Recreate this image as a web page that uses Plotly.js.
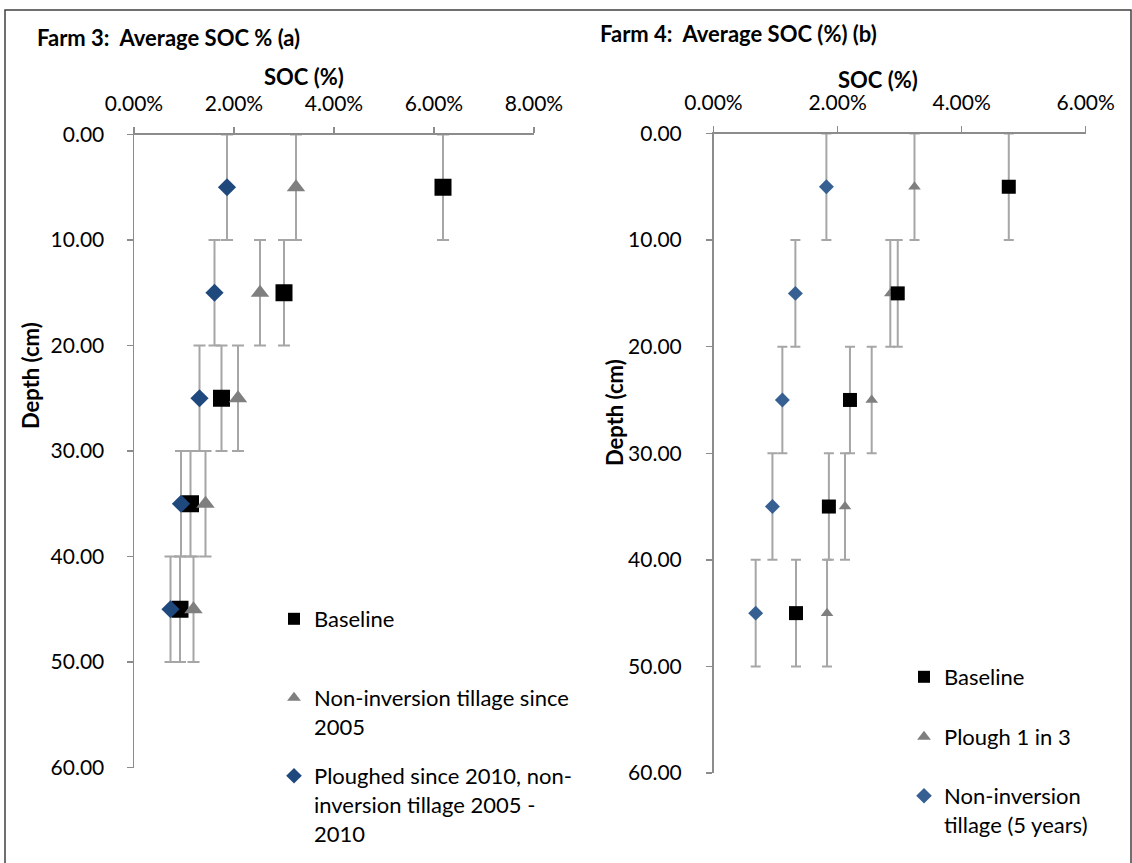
<!DOCTYPE html>
<html>
<head>
<meta charset="utf-8">
<script src="https://cdn.plot.ly/plotly-3.0.1.min.js"></script>
<style>
  html, body { margin: 0; padding: 0; background: #ffffff; }
  #chart { width: 1132px; height: 863px; }
</style>
</head>
<body>
<div id="chart"></div>
<script>
// Sampling depths (cm, centre of each 10 cm layer) and the layer half-thickness
const depthCm = [5, 15, 25, 35, 45];
const layerHalf = [5, 5, 5, 5, 5];
const depthTicks = [0, 10, 20, 30, 40, 50, 60];

// Farm 3 – average soil organic carbon (%)
const farm3Names = [
  'Baseline',
  'Non-inversion tillage since<br>2005',
  'Ploughed since 2010, non-<br>inversion tillage 2005 -<br>2010'
];
const farm3Baseline = [6.18, 3.00, 1.75, 1.13, 0.92];
const farm3NonInversion = [3.24, 2.52, 2.08, 1.43, 1.19];
const farm3Ploughed = [1.86, 1.61, 1.31, 0.94, 0.73];
const farm3SocTicks = [0, 2, 4, 6, 8];

// Farm 4 – average soil organic carbon (%)
const farm4Names = [
  'Baseline',
  'Plough 1 in 3',
  'Non-inversion<br>tillage (5 years)'
];
const farm4Baseline = [4.76, 2.97, 2.20, 1.86, 1.33];
const farm4Plough = [3.24, 2.85, 2.55, 2.12, 1.83];
const farm4NonInversion = [1.82, 1.32, 1.11, 0.95, 0.68];
const farm4SocTicks = [0, 2, 4, 6];

// ---- layout helpers (pixel positions on a 1132 x 863 page) ----
const W = 1132, H = 863;
const px = v => v / W;
const py = v => 1 - v / H;

const FONT = 'Lato, "Open Sans", sans-serif';
const AXIS_GREY = '#8c8c8c';
const BAR_GREY = '#a6a6a6';

function series(x, name, symbol, color, size, xa, ya, legendId, capW) {
  return {
    type: 'scatter', mode: 'markers',
    x: x, y: depthCm, name: name,
    xaxis: xa, yaxis: ya, legend: legendId,
    marker: { symbol: symbol, color: color, size: size, line: { width: 0 } },
    error_y: { type: 'data', array: layerHalf, visible: true,
               color: BAR_GREY, thickness: 2, width: capW },
    hoverinfo: 'x+y'
  };
}

const traces = [
  series(farm3Baseline, farm3Names[0], 'square', '#000000', 17, 'x', 'y', 'legend', 6),
  series(farm3NonInversion, farm3Names[1], 'triangle-up', '#7f7f7f', 16, 'x', 'y', 'legend2', 6),
  series(farm3Ploughed, farm3Names[2], 'diamond', '#1f497d', 14, 'x', 'y', 'legend3', 6),
  series(farm4Plough, farm4Names[1], 'triangle-up', '#7f7f7f', 11, 'x2', 'y2', 'legend5', 5),
  series(farm4Baseline, farm4Names[0], 'square', '#000000', 14, 'x2', 'y2', 'legend4', 5),
  series(farm4NonInversion, farm4Names[2], 'diamond', '#376092', 11.5, 'x2', 'y2', 'legend6', 5)
];

function socAxis(domain, range, ticks, anchor) {
  return {
    domain: domain, range: range, anchor: anchor, side: 'top',
    tickmode: 'array', tickvals: ticks,
    ticktext: ticks.map(v => v.toFixed(2) + '%'),
    showgrid: false, zeroline: false,
    showline: true, linecolor: AXIS_GREY, linewidth: 1.5,
    ticks: 'outside', ticklen: 6, tickcolor: AXIS_GREY, tickwidth: 1.5,
    ticklabelstandoff: 8,
    tickfont: { family: FONT, size: 21, color: '#000000' },
    fixedrange: true
  };
}
function depthAxis(domain, anchor, standoff) {
  return {
    domain: domain, range: [60, 0], anchor: anchor,
    tickmode: 'array', tickvals: depthTicks,
    ticktext: depthTicks.map(v => v.toFixed(2)),
    showgrid: false, zeroline: false,
    showline: true, linecolor: AXIS_GREY, linewidth: 1.5,
    ticks: 'outside', ticklen: 6, tickcolor: AXIS_GREY, tickwidth: 1.5,
    ticklabelstandoff: standoff,
    tickfont: { family: FONT, size: 21, color: '#000000' },
    fixedrange: true
  };
}

function legendAt(xPix, topPix) {
  return {
    x: px(xPix), y: py(topPix), xanchor: 'left', yanchor: 'top',
    bgcolor: 'rgba(0,0,0,0)', borderwidth: 0,
    valign: 'top', itemsizing: 'constant', itemclick: false, itemdoubleclick: false,
    font: { family: FONT, size: 22, color: '#000000' }
  };
}

function label(text, xPix, yPix, opts) {
  return Object.assign({
    text: text, xref: 'paper', yref: 'paper', x: px(xPix), y: py(yPix),
    xanchor: 'center', yanchor: 'middle', showarrow: false,
    font: { family: FONT, size: 22, color: '#000000', weight: 700 }
  }, opts || {});
}

const layout = {
  width: W, height: H, autosize: false,
  margin: { l: 0, r: 0, t: 0, b: 0 },
  paper_bgcolor: '#ffffff', plot_bgcolor: '#ffffff',
  showlegend: true,
  xaxis: socAxis([px(134), px(534)], [0, 8], farm3SocTicks, 'y'),
  yaxis: depthAxis([py(767.5), py(134.5)], 'x', 18),
  xaxis2: socAxis([px(713.5), px(1085.7)], [0, 6], farm4SocTicks, 'y2'),
  yaxis2: depthAxis([py(773), py(133.5)], 'x2', 20),
  legend: legendAt(274, 598),
  legend2: legendAt(274, 677),
  legend3: legendAt(274, 755),
  legend4: legendAt(904, 656),
  legend5: legendAt(904, 716),
  legend6: legendAt(904, 775),
  annotations: [
    label('Farm 3:\u00a0 Average SOC % (a)', 35, 37, { xanchor: 'left' }),
    label('Farm 4:\u00a0 Average SOC (%) (b)', 598, 33, { xanchor: 'left' }),
    label('SOC (%)', 304, 77),
    label('SOC (%)', 878, 79),
    label('Depth (cm)', 31, 376, { textangle: -90 }),
    label('Depth (cm)', 614, 413, { textangle: -90 })
  ],
  shapes: [
    { type: 'rect', xref: 'paper', yref: 'paper',
      x0: px(5), x1: px(1131), y0: py(880), y1: py(10),
      line: { color: '#404040', width: 1.5 }, fillcolor: 'rgba(0,0,0,0)' }
  ]
};

Plotly.newPlot('chart', traces, layout, { displayModeBar: false, staticPlot: true });
</script>
</body>
</html>
